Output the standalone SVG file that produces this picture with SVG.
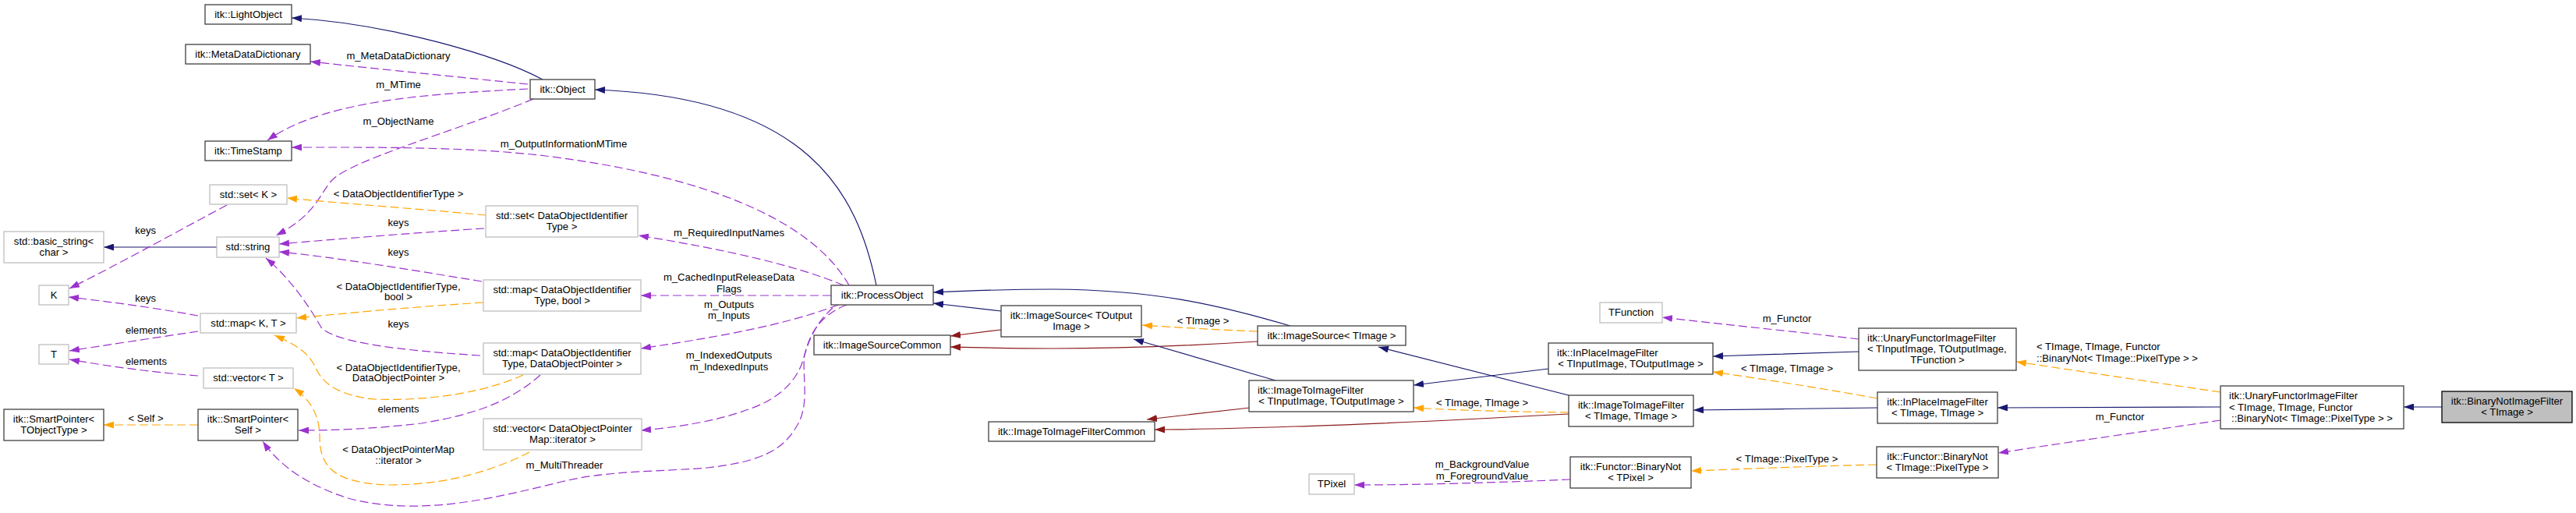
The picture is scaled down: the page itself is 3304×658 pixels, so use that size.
<svg xmlns="http://www.w3.org/2000/svg" width="3304" height="658" viewBox="0 0 3304 658">
<style>
text{font-family:"Liberation Sans",Arial,sans-serif;font-size:13.1px;fill:#000}
.m{text-anchor:middle}
.s{text-anchor:start}
.b{fill:#fff;stroke:#404040;stroke-width:1.3}
.g{fill:#fff;stroke:#bfbfbf;stroke-width:1.3}
.h{fill:#bfbfbf;stroke:#000;stroke-width:1.3}
.e{fill:none;stroke-width:1.2}
.nv{stroke:#191970;marker-end:url(#an)}
.rd{stroke:#8b1a1a;marker-end:url(#ar)}
.pu{stroke:#9a32cd;stroke-dasharray:11,5;marker-end:url(#ap)}
.or{stroke:#ffa500;stroke-dasharray:11,5;marker-end:url(#ao)}
</style>
<defs>
<marker id="an" markerUnits="userSpaceOnUse" markerWidth="13" markerHeight="9" viewBox="0 0 13 9" refX="13" refY="4.5" orient="auto"><path d="M0,0L13,4.5L0,9z" fill="#191970"/></marker>
<marker id="ar" markerUnits="userSpaceOnUse" markerWidth="13" markerHeight="9" viewBox="0 0 13 9" refX="13" refY="4.5" orient="auto"><path d="M0,0L13,4.5L0,9z" fill="#8b1a1a"/></marker>
<marker id="ap" markerUnits="userSpaceOnUse" markerWidth="13" markerHeight="9" viewBox="0 0 13 9" refX="13" refY="4.5" orient="auto"><path d="M0,0L13,4.5L0,9z" fill="#9a32cd"/></marker>
<marker id="ao" markerUnits="userSpaceOnUse" markerWidth="13" markerHeight="9" viewBox="0 0 13 9" refX="13" refY="4.5" orient="auto"><path d="M0,0L13,4.5L0,9z" fill="#ffa500"/></marker>
</defs>
<rect width="3304" height="658" fill="#fff"/>
<g id="connectors">
<path class="e nv" d="M696,102 C640,72 500,30 374,23"/>
<path class="e nv" d="M1124,366 C1100,250 1040,125 763,115"/>
<path class="e pu" d="M677,108 C600,100 480,88 398,79"/>
<text class="m" x="511" y="76">m_MetaDataDictionary</text>
<path class="e pu" d="M677,114 C570,120 420,125 343,180"/>
<text class="m" x="511" y="112.7">m_MTime</text>
<path class="e pu" d="M684,127 C580,170 450,205 425,232 C408,252 405,275 354,302"/>
<text class="m" x="511" y="160">m_ObjectName</text>
<path class="e pu" d="M1089,366 C1040,280 900,225 700,200 C600,188 480,189 374,189"/>
<text class="m" x="723" y="188.7">m_OutputInformationMTime</text>
<path class="e or" d="M623,276 C540,268 450,262 368,254"/>
<text class="m" x="511" y="252.7">&lt; DataObjectIdentifierType &gt;</text>
<path class="e pu" d="M621,293 C540,298 440,306 358,313"/>
<text class="m" x="511" y="290.3">keys</text>
<path class="e pu" d="M618,361 C520,345 430,330 358,323"/>
<text class="m" x="511" y="327.7">keys</text>
<path class="e pu" d="M616,456 C520,450 430,440 412,420 C395,390 370,355 341,331"/>
<text class="m" x="511" y="420">keys</text>
<path class="e nv" d="M278,317 L133,317"/>
<path class="e pu" d="M254,405 C200,395 140,387 88,381"/>
<text class="m" x="186.6" y="386.7">keys</text>
<path class="e pu" d="M291,263 C240,290 150,340 89,370"/>
<text class="m" x="186.6" y="300.3">keys</text>
<path class="e pu" d="M254,425 C200,433 140,442 89,450"/>
<text class="m" x="187.5" y="428">elements</text>
<path class="e pu" d="M254,482 C200,478 140,470 89,461"/>
<text class="m" x="187.5" y="468">elements</text>
<path class="e or" d="M254,545 L133,545"/>
<text class="m" x="187" y="540.7">&lt; Self &gt;</text>
<path class="e or" d="M620,388 C540,393 460,400 380,408"/>
<text class="m" x="511" y="371.7">&lt; DataObjectIdentifierType,</text>
<text class="m" x="511" y="385">bool &gt;</text>
<path class="e or" d="M671,481 C630,500 560,515 480,512 C440,508 415,495 405,472 C395,450 375,440 352,430"/>
<text class="m" x="511" y="475.7">&lt; DataObjectIdentifierType,</text>
<text class="m" x="511" y="489">DataObjectPointer &gt;</text>
<path class="e pu" d="M693,481 C660,510 620,530 540,543 C480,550 430,552 383,552"/>
<text class="m" x="511" y="529">elements</text>
<path class="e or" d="M679,580 C640,600 580,622 500,622 C430,620 410,600 410,560 C410,530 395,510 377,498"/>
<text class="m" x="511" y="580.7">&lt; DataObjectPointerMap</text>
<text class="m" x="511" y="595">::iterator &gt;</text>
<path class="e pu" d="M1086,391 C1050,405 1038,430 1032,455 C1028,480 1040,520 1021,548 C1005,575 980,592 907,600 C850,605 780,603 720,618 C630,640 540,662 450,640 C400,625 360,600 337,566"/>
<text class="m" x="724" y="600.7">m_MultiThreader</text>
<path class="e pu" d="M1082,366 C1020,340 930,320 819,302"/>
<text class="m" x="935" y="302.7">m_RequiredInputNames</text>
<path class="e pu" d="M1066,379 L822,379"/>
<text class="m" x="935" y="360">m_CachedInputReleaseData</text>
<text class="m" x="935" y="374.7">Flags</text>
<path class="e pu" d="M1075,391 C1000,420 900,435 822,447"/>
<text class="m" x="935" y="395">m_Outputs</text>
<text class="m" x="935" y="409">m_Inputs</text>
<path class="e pu" d="M1068,395 C1045,415 1036,440 1030,462 C1020,495 990,515 960,525 C920,540 870,548 822,552"/>
<text class="m" x="935" y="460">m_IndexedOutputs</text>
<text class="m" x="935" y="475">m_IndexedInputs</text>
<path class="e nv" d="M1284,399 L1197,389"/>
<path class="e rd" d="M1284,423 L1219,431"/>
<path class="e nv" d="M1655,418 C1560,390 1480,372 1350,371 C1290,371 1240,373 1197,375"/>
<path class="e rd" d="M1613,438 C1500,445 1400,447 1350,447 C1300,447 1260,446 1219,445"/>
<path class="e or" d="M1613,425 C1560,423 1510,420 1465,417"/>
<text class="m" x="1543" y="415.7">&lt; TImage &gt;</text>
<path class="e nv" d="M1636,488 L1454,435"/>
<path class="e rd" d="M1603,523 L1471,538"/>
<path class="e nv" d="M2012,507 L1768,445"/>
<path class="e or" d="M2012,529 C1950,528 1880,527 1813,523"/>
<text class="m" x="1901" y="521">&lt; TImage, TImage &gt;</text>
<path class="e rd" d="M2012,531 C1900,537 1750,545 1660,547 C1600,549 1540,551 1481,551"/>
<path class="e nv" d="M1986,473 L1813,494"/>
<path class="e nv" d="M2408,523 C2330,524 2250,525 2172,526"/>
<path class="e or" d="M2408,511 C2330,497 2260,486 2197,477"/>
<text class="m" x="2292" y="477">&lt; TImage, TImage &gt;</text>
<path class="e nv" d="M2384,451 C2320,453 2260,455 2197,457"/>
<path class="e pu" d="M2384,435 C2300,425 2200,415 2132,407"/>
<text class="m" x="2292" y="413">m_Functor</text>
<path class="e or" d="M2848,503 C2760,490 2660,475 2586,464"/>
<text class="s" x="2612" y="449">&lt; TImage, TImage, Functor</text>
<text class="s" x="2612" y="464">::BinaryNot&lt; TImage::PixelType &gt; &gt;</text>
<path class="e nv" d="M3132,522 L3083,522"/>
<path class="e nv" d="M2848,522 L2562,523"/>
<path class="e pu" d="M2848,539 C2760,552 2660,566 2563,581"/>
<text class="m" x="2719" y="539">m_Functor</text>
<path class="e or" d="M2407,596 C2320,598 2250,601 2169,604"/>
<text class="m" x="2292" y="593">&lt; TImage::PixelType &gt;</text>
<path class="e pu" d="M2014,615 C1920,619 1820,622 1737,622"/>
<text class="m" x="1901" y="600">m_BackgroundValue</text>
<text class="m" x="1901" y="615">m_ForegroundValue</text>
</g>
<g id="n_lightobject"><rect class="b" x="263" y="6" width="111" height="25"/><text class="m" x="318.5" y="22.5">itk::LightObject</text></g>
<g id="n_metadatadictionary"><rect class="b" x="238" y="57" width="160" height="25"/><text class="m" x="318" y="73.5">itk::MetaDataDictionary</text></g>
<g id="n_object"><rect class="b" x="680" y="102" width="83" height="25"/><text class="m" x="721.5" y="118.5">itk::Object</text></g>
<g id="n_timestamp"><rect class="b" x="263" y="181" width="111" height="25"/><text class="m" x="318.5" y="197.5">itk::TimeStamp</text></g>
<g id="n_setk"><rect class="g" x="269" y="237" width="99" height="25"/><text class="m" x="318.5" y="253.5">std::set&lt; K &gt;</text></g>
<g id="n_setdoit"><rect class="g" x="623" y="264" width="195" height="40"/><text class="m" x="720.5" y="280.8">std::set&lt; DataObjectIdentifier</text><text class="m" x="720.5" y="295.2">Type &gt;</text></g>
<g id="n_basicstring"><rect class="g" x="5" y="297" width="128" height="40"/><text class="m" x="69" y="313.8">std::basic_string&lt;</text><text class="m" x="69" y="328.2">char &gt;</text></g>
<g id="n_string"><rect class="g" x="278" y="304" width="80" height="26"/><text class="m" x="318" y="321">std::string</text></g>
<g id="n_k"><rect class="g" x="50" y="366" width="38" height="25"/><text class="m" x="69" y="382.5">K</text></g>
<g id="n_mapkt"><rect class="g" x="257" y="402" width="123" height="25"/><text class="m" x="318.5" y="418.5">std::map&lt; K, T &gt;</text></g>
<g id="n_t"><rect class="g" x="50" y="442" width="38" height="25"/><text class="m" x="69" y="458.5">T</text></g>
<g id="n_vectort"><rect class="g" x="261" y="472" width="115" height="26"/><text class="m" x="318.5" y="489">std::vector&lt; T &gt;</text></g>
<g id="n_smartpointer_tobj"><rect class="b" x="5" y="525" width="128" height="40"/><text class="m" x="69" y="541.8">itk::SmartPointer&lt;</text><text class="m" x="69" y="556.2">TObjectType &gt;</text></g>
<g id="n_smartpointer_self"><rect class="b" x="254" y="525" width="128" height="40"/><text class="m" x="318" y="541.8">itk::SmartPointer&lt;</text><text class="m" x="318" y="556.2">Self &gt;</text></g>
<g id="n_mapbool"><rect class="g" x="620" y="359" width="202" height="40"/><text class="m" x="721" y="375.8">std::map&lt; DataObjectIdentifier</text><text class="m" x="721" y="390.2">Type, bool &gt;</text></g>
<g id="n_mapdop"><rect class="g" x="620" y="440" width="202" height="40"/><text class="m" x="721" y="456.8">std::map&lt; DataObjectIdentifier</text><text class="m" x="721" y="471.2">Type, DataObjectPointer &gt;</text></g>
<g id="n_vecdop"><rect class="g" x="620" y="537" width="203" height="40"/><text class="m" x="721.5" y="553.8">std::vector&lt; DataObjectPointer</text><text class="m" x="721.5" y="568.2">Map::iterator &gt;</text></g>
<g id="n_processobject"><rect class="b" x="1066" y="366" width="131" height="25"/><text class="m" x="1131.5" y="382.5">itk::ProcessObject</text></g>
<g id="n_imagesourcecommon"><rect class="b" x="1044" y="430" width="175" height="25"/><text class="m" x="1131.5" y="446.5">itk::ImageSourceCommon</text></g>
<g id="n_imagesource_tout"><rect class="b" x="1284" y="392" width="180" height="40"/><text class="m" x="1374" y="408.8">itk::ImageSource&lt; TOutput</text><text class="m" x="1374" y="423.2">Image &gt;</text></g>
<g id="n_itifcommon"><rect class="b" x="1268" y="541" width="213" height="25"/><text class="m" x="1374.5" y="557.5">itk::ImageToImageFilterCommon</text></g>
<g id="n_imagesource_timage"><rect class="b" x="1613" y="418" width="190" height="25"/><text class="m" x="1708" y="434.5">itk::ImageSource&lt; TImage &gt;</text></g>
<g id="n_itif_io"><rect class="b" x="1602" y="488" width="211" height="40"/><text class="s" x="1613" y="504.8">itk::ImageToImageFilter</text><text class="m" x="1707.5" y="519.2">&lt; TInputImage, TOutputImage &gt;</text></g>
<g id="n_tfunction"><rect class="g" x="2052" y="388" width="80" height="26"/><text class="m" x="2092" y="405">TFunction</text></g>
<g id="n_inplace_io"><rect class="b" x="1986" y="440" width="211" height="40"/><text class="s" x="1997" y="456.8">itk::InPlaceImageFilter</text><text class="m" x="2091.5" y="471.2">&lt; TInputImage, TOutputImage &gt;</text></g>
<g id="n_itif_img"><rect class="b" x="2012" y="507" width="160" height="40"/><text class="m" x="2092" y="523.8">itk::ImageToImageFilter</text><text class="m" x="2092" y="538.2">&lt; TImage, TImage &gt;</text></g>
<g id="n_tpixel"><rect class="g" x="1679" y="608" width="58" height="26"/><text class="m" x="1708" y="625">TPixel</text></g>
<g id="n_binarynot_tpixel"><rect class="b" x="2014" y="586" width="155" height="40"/><text class="m" x="2091.5" y="602.8">itk::Functor::BinaryNot</text><text class="m" x="2091.5" y="617.2">&lt; TPixel &gt;</text></g>
<g id="n_unary_io"><rect class="b" x="2384" y="421" width="202" height="54"/><text class="s" x="2395" y="437.6">itk::UnaryFunctorImageFilter</text><text class="s" x="2395" y="452">&lt; TInputImage, TOutputImage,</text><text class="m" x="2485" y="466.4">TFunction &gt;</text></g>
<g id="n_inplace_img"><rect class="b" x="2408" y="503" width="154" height="40"/><text class="m" x="2485" y="519.8">itk::InPlaceImageFilter</text><text class="m" x="2485" y="534.2">&lt; TImage, TImage &gt;</text></g>
<g id="n_binarynot_pixeltype"><rect class="b" x="2407" y="573" width="156" height="40"/><text class="m" x="2485" y="589.8">itk::Functor::BinaryNot</text><text class="m" x="2485" y="604.2">&lt; TImage::PixelType &gt;</text></g>
<g id="n_unary_img"><rect class="b" x="2848" y="495" width="235" height="55"/><text class="s" x="2859" y="512.1">itk::UnaryFunctorImageFilter</text><text class="s" x="2859" y="526.5">&lt; TImage, TImage, Functor</text><text class="m" x="2965.5" y="540.9">::BinaryNot&lt; TImage::PixelType &gt; &gt;</text></g>
<g id="n_binarynotimagefilter"><rect class="h" x="3132" y="502" width="167" height="40"/><text class="m" x="3215.5" y="518.8">itk::BinaryNotImageFilter</text><text class="m" x="3215.5" y="533.2">&lt; TImage &gt;</text></g>
</svg>
